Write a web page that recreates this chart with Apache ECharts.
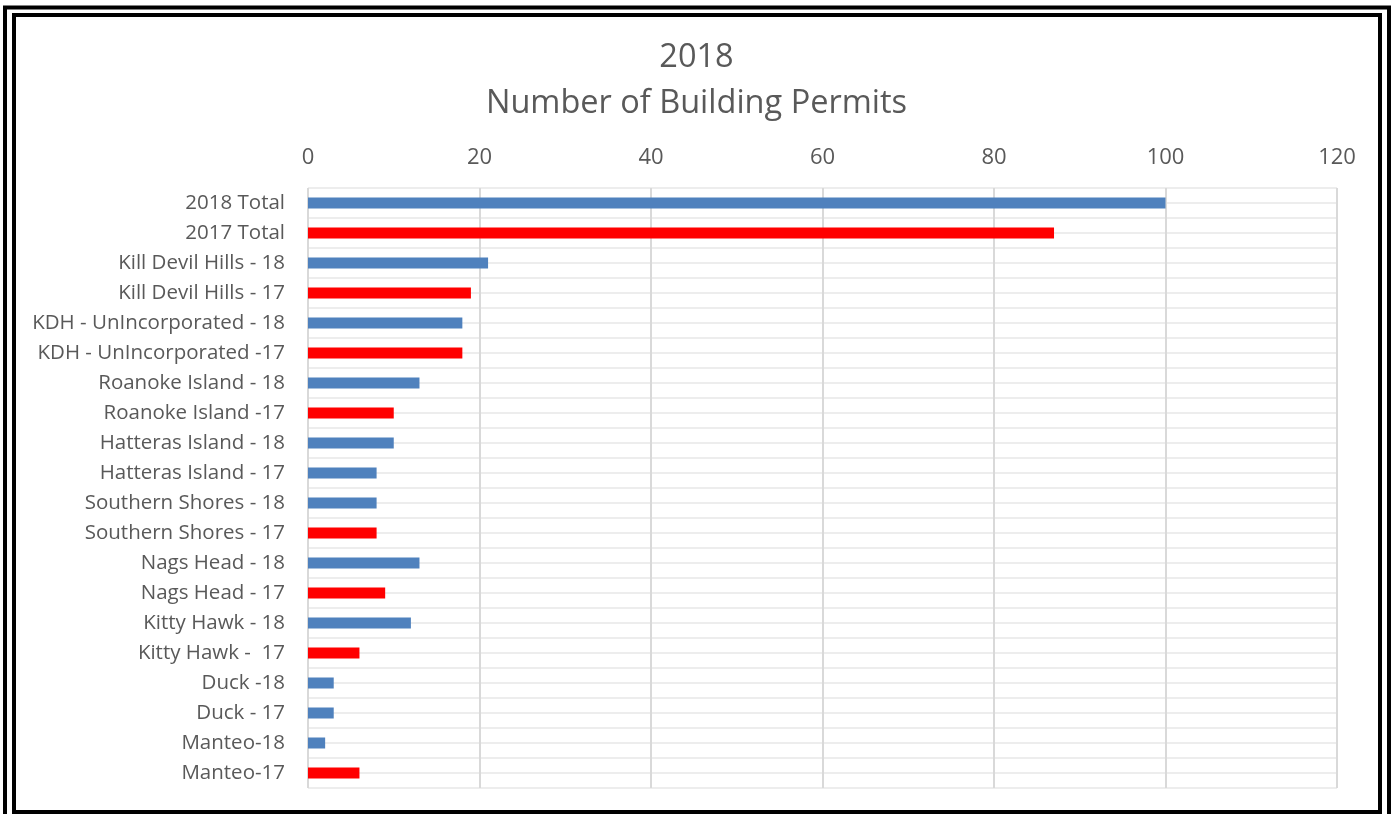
<!DOCTYPE html>
<html>
<head>
<meta charset="utf-8">
<title>2018 Number of Building Permits</title>
<script src="https://cdn.jsdelivr.net/npm/echarts@6/dist/echarts.min.js"></script>
<style>
  html, body { margin: 0; padding: 0; background: #fff; }
  #chart { width: 1393px; height: 814px; }
</style>
</head>
<body>
<div id="chart"></div>
<script>
// Permit counts by area, top row first
const categories = [
  '2018 Total', '2017 Total',
  'Kill Devil Hills - 18', 'Kill Devil Hills - 17',
  'KDH - UnIncorporated - 18', 'KDH - UnIncorporated -17',
  'Roanoke Island - 18', 'Roanoke Island -17',
  'Hatteras Island - 18', 'Hatteras Island - 17',
  'Southern Shores - 18', 'Southern Shores - 17',
  'Nags Head - 18', 'Nags Head - 17',
  'Kitty Hawk - 18', 'Kitty Hawk -  17',
  'Duck -18', 'Duck - 17',
  'Manteo-18', 'Manteo-17'
];
const permits = [100, 87, 21, 19, 18, 18, 13, 10, 10, 8, 8, 8, 13, 9, 12, 6, 3, 3, 2, 6];
// Which bars are drawn in the 2017 highlight colour
const highlighted = [false, true, false, true, false, true, false, true, false, false,
                     false, true, false, true, false, true, false, false, false, true];
const xTicks = [0, 20, 40, 60, 80, 100, 120];

const BLUE = '#4F81BD';
const RED = '#FF0000';
const TEXT = '#595959';
const FONT = 'Open Sans';

const chart = echarts.init(document.getElementById('chart'), null, { renderer: 'canvas' });

// category axis runs top-to-bottom, so reverse for ECharts' bottom-up order
const cats = categories.slice().reverse();
const vals = permits.slice().reverse();
const hi = highlighted.slice().reverse();

chart.setOption({
  animation: false,
  backgroundColor: '#ffffff',
  title: {
    text: '2018\nNumber of Building Permits',
    left: 'center',
    top: 30,
    textStyle: { color: TEXT, fontFamily: FONT, fontWeight: 'normal', fontSize: 32.5, lineHeight: 46 }
  },
  grid: { left: 308, right: 56, top: 188, bottom: 26, containLabel: false },
  xAxis: {
    type: 'value',
    position: 'top',
    min: xTicks[0],
    max: xTicks[xTicks.length - 1],
    interval: 20,
    axisLine: { show: false },
    axisTick: { show: false },
    axisLabel: { color: TEXT, fontFamily: FONT, fontSize: 22, margin: 19 },
    splitLine: { show: true, lineStyle: { color: '#D9D9D9', width: 2 } }
  },
  yAxis: [
    {
      type: 'category',
      data: cats,
      axisLine: { show: false },
      axisTick: { show: false },
      axisLabel: { color: TEXT, fontFamily: FONT, fontSize: 20.5, margin: 23 },
      splitLine: { show: false }
    },
    {
      // half-row guide lines across the plot
      type: 'value',
      min: 0,
      max: cats.length * 2,
      interval: 1,
      position: 'left',
      axisLine: { show: false },
      axisTick: { show: false },
      axisLabel: { show: false },
      splitLine: { show: true, lineStyle: { color: '#EDEDED', width: 2 } },
      z: 0
    }
  ],
  series: [{
    type: 'bar',
    yAxisIndex: 0,
    barWidth: 11,
    data: vals.map((v, i) => ({ value: v, itemStyle: { color: hi[i] ? RED : BLUE } })),
    z: 3
  }],
  graphic: [
    { type: 'rect', shape: { x: 5, y: 7.5, width: 1384, height: 820 }, style: { fill: 'none', stroke: '#000', lineWidth: 4 }, z: 100 },
    { type: 'rect', shape: { x: 14, y: 15, width: 1366, height: 797 }, style: { fill: 'none', stroke: '#000', lineWidth: 4 }, z: 100 }
  ]
});
</script>
</body>
</html>
